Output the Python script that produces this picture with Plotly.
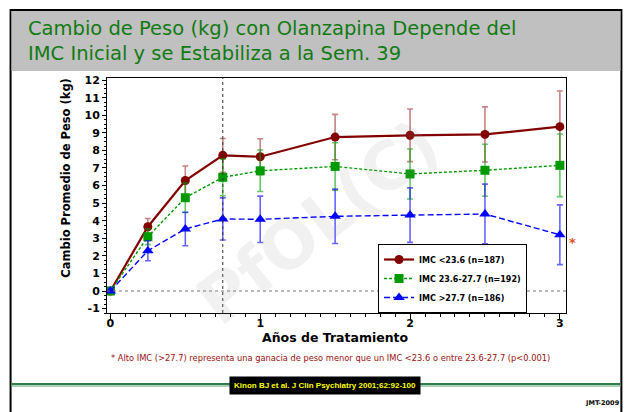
import plotly.graph_objects as go

# ---------------- data ----------------
years = [0, 0.25, 0.5, 0.75, 1, 1.5, 2, 2.5, 3]
low_bmi = [0, 3.66, 6.29, 7.72, 7.64, 8.76, 8.86, 8.91, 9.35]
low_err = [0, 0.47, 0.82, 0.96, 1.02, 1.29, 1.50, 1.57, 2.03]
mid_bmi = [0, 3.09, 5.31, 6.47, 6.84, 7.09, 6.66, 6.87, 7.15]
mid_err = [0, 0.45, 0.84, 1.05, 1.18, 1.35, 1.42, 1.48, 1.78]
high_bmi = [0, 2.29, 3.53, 4.10, 4.08, 4.25, 4.32, 4.38, 3.20]
high_err = [0, 0.57, 0.95, 1.20, 1.32, 1.55, 1.55, 1.70, 1.70]
series_names = ["IMC &lt;23.6 (n=187)", "IMC 23.6-27.7 (n=192)", "IMC &gt;27.7 (n=186)"]
x_ticks = [0, 1, 2, 3]
y_ticks = list(range(-1, 13))
stabilize_year = 0.75

# ---------------- layout geometry (pixels) ----------------
W, H = 624, 412
L, R, T, B = 107.3, 565.7, 78, 313
PW, PH = R - L, B - T


def px(x):
    return (x - L) / PW


def py(y):
    return (B - y) / PH


FONT = "DejaVu Sans"
fig = go.Figure()

styles = [
    dict(y=low_bmi, e=low_err, color="#820000", ecolor="rgba(150,30,30,0.55)",
         symbol="circle", size=9, dash="solid", width=2.2),
    dict(y=mid_bmi, e=mid_err, color="#009a00", ecolor="rgba(0,160,0,0.6)",
         symbol="square", size=9, dash="3px,2px", width=1.4),
    dict(y=high_bmi, e=high_err, color="#0000ff", ecolor="rgba(0,0,255,0.6)",
         symbol="triangle-up", size=10, dash="6px,3px", width=1.4),
]
for name, s in zip(series_names, styles):
    fig.add_trace(go.Scatter(
        x=years, y=s["y"], name=name, mode="lines+markers",
        line=dict(color=s["color"], width=s["width"], dash=s["dash"]),
        marker=dict(color=s["color"], symbol=s["symbol"], size=s["size"]),
        error_y=dict(type="data", array=s["e"], visible=True,
                     color=s["ecolor"], thickness=1.6, width=3),
    ))

shapes = [
    # outer slide frame
    dict(type="rect", xref="paper", yref="paper", x0=px(11), x1=px(621), y0=py(414), y1=py(10),
         line=dict(color="black", width=2), fillcolor="rgba(0,0,0,0)", layer="below"),
    # gray header
    dict(type="rect", xref="paper", yref="paper", x0=px(12), x1=px(620), y0=py(71), y1=py(11),
         line=dict(width=0), fillcolor="#c0c0c0", layer="below"),
    # green bottom rule
    dict(type="line", xref="paper", yref="paper", x0=px(12), x1=px(620), y0=py(384), y1=py(384),
         line=dict(color="#2f7f4f", width=2)),
    dict(type="line", xref="paper", yref="paper", x0=px(12), x1=px(620), y0=py(386), y1=py(386),
         line=dict(color="#8fc0a0", width=1.5)),
    # reference lines
    dict(type="line", xref="x", yref="paper", x0=stabilize_year, x1=stabilize_year, y0=0, y1=1,
         line=dict(color="#333333", width=1, dash="dot")),
    dict(type="line", xref="paper", yref="y", x0=0, x1=1, y0=0, y1=0,
         line=dict(color="#777777", width=1, dash="dot")),
]


def ann(text, x, y, size, color="black", bold=False, family=FONT, **kw):
    d = dict(text=text, xref="paper", yref="paper", x=px(x), y=py(y),
             xanchor=kw.pop("xanchor", "center"), yanchor=kw.pop("yanchor", "middle"),
             showarrow=False,
             font=dict(family=family, size=size, color=color, weight="bold" if bold else "normal"))
    d.update(kw)
    return d


annotations = [
    ann("Cambio de Peso (kg) con Olanzapina Depende del<br>IMC Inicial y se Estabiliza a la Sem. 39",
        26, 41, 19.5, color="#127a12", xanchor="left", align="left"),
    ann("PfOL(C)", 318, 222, 66, color="rgba(150,150,150,0.13)", bold=True, textangle=-38),
    ann("Cambio Promedio de Peso (kg)", 66, 178, 11.5, bold=True, textangle=-90),
    ann("Años de Tratamiento", 336, 337.5, 12.5, bold=True),
    ann("*", 572, 242, 13, color="#e8501e", bold=True),
    ann("* Alto IMC (&gt;27.7) representa una ganacia de peso menor que un IMC &lt;23.6 o entre 23.6-27.7 (p&lt;0.001)",
        331, 358, 8.3, color="#9a1010"),
    ann("<b>Kinon BJ et al. J Clin Psychiatry 2001;62:92-100</b>", 325, 385, 8, color="#ffff00",
        family="Liberation Sans Narrow, Liberation Sans", bgcolor="black", borderpad=4),
    ann("JMT-2009", 602, 403, 6.5, bold=True),
]

fig.update_layout(
    width=W, height=H,
    margin=dict(l=L, r=W - R, t=T, b=H - B, pad=0),
    paper_bgcolor="white", plot_bgcolor="white",
    showlegend=True,
    legend=dict(x=px(378), y=py(244), xanchor="left", yanchor="top",
                bgcolor="white", bordercolor="black", borderwidth=1,
                font=dict(family=FONT, size=8, color="black", weight="bold"),
                itemwidth=30, tracegroupgap=0),
    shapes=shapes, annotations=annotations,
    font=dict(family=FONT),
)

fig.update_xaxes(
    range=[-0.0227, 3.041], tickmode="array", tickvals=x_ticks,
    ticktext=[str(t) for t in x_ticks],
    ticks="outside", ticklen=5, tickcolor="black", tickwidth=1,
    ticklabelstandoff=-5,
    minor=dict(dtick=0.1, ticks="outside", ticklen=3, tickcolor="black", showgrid=False),
    showline=True, linecolor="black", linewidth=1, mirror=True,
    showgrid=False, zeroline=False,
    tickfont=dict(family=FONT, size=11, color="black", weight="bold"),
)
fig.update_yaxes(
    range=[-1.25, 12.12], tickmode="array", tickvals=y_ticks,
    ticktext=[str(t) for t in y_ticks],
    ticks="outside", ticklen=4, tickcolor="black", tickwidth=1,
    minor=dict(dtick=0.25, ticks="outside", ticklen=2, tickcolor="black", showgrid=False),
    showline=True, linecolor="black", linewidth=1, mirror=True,
    showgrid=False, zeroline=False,
    tickfont=dict(family=FONT, size=11, color="black", weight="bold"),
)

fig.write_html("out.html", config={"displayModeBar": False},
               post_script="document.body.style.margin='0';")
